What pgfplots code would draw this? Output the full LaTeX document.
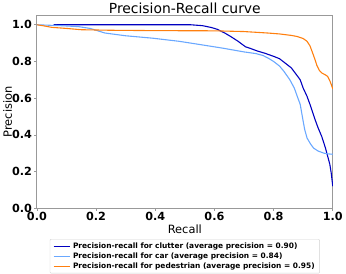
\documentclass[border=0pt]{standalone}
\usepackage{pgfplots}
\pgfplotsset{compat=1.18}
\usepackage{fontspec}
\setmainfont{DejaVu Sans}
\definecolor{clut}{HTML}{0000C0}
\definecolor{carc}{HTML}{6AA8FF}
\definecolor{pedc}{HTML}{FF7F0E}
\begin{document}
\begin{tikzpicture}
\begin{axis}[
  width=298pt, height=194pt, scale only axis,
  xmin=0, xmax=1, ymin=0, ymax=1.05,
  xtick={0,0.2,...,1.0}, ytick={0,0.2,...,1.0},
  /pgf/number format/assume math mode=true,
  /pgf/number format/.cd, fixed, fixed zerofill, precision=1, /pgfplots/.cd,
  xticklabel={\pgfmathprintnumber{\tick}},
  yticklabel={\pgfmathprintnumber{\tick}},
  xticklabel style={font=\fontsize{11.3}{13}\selectfont\bfseries, yshift=2pt},
  yticklabel style={font=\fontsize{11.3}{13}\selectfont\bfseries, xshift=1pt},
  axis line style={gray!80, line width=0.8pt},
  tick style={gray!80, line width=0.6pt},
  tick align=outside, major tick length=2.5pt,
  xtick pos=bottom, ytick pos=left,
  title={Precision-Recall curve},
  title style={font=\fontsize{14}{16}\selectfont, yshift=-8pt},
  xlabel={Recall}, ylabel={Precision},
  xlabel style={font=\fontsize{11.5}{13}\selectfont, yshift=3pt},
  ylabel style={font=\fontsize{11.5}{13}\selectfont, yshift=-7pt},
  legend style={at={(0.5,-0.16)}, anchor=north, font=\fontsize{7.5}{9}\selectfont\bfseries,
    draw=gray!35, rounded corners=1pt, row sep=-1.2pt, inner sep=1.5pt, inner xsep=3pt},
  legend cell align=left,
  every axis plot/.append style={line width=1.1pt},
]
\addplot[clut] coordinates {
(0.057,1.0)(0.30,1.0)(0.52,1.0)(0.56,0.995)(0.59,0.985)(0.61,0.975)(0.635,0.955)(0.655,0.936)(0.68,0.91)(0.705,0.88)(0.72,0.872)(0.745,0.857)(0.77,0.845)(0.80,0.828)(0.82,0.815)(0.84,0.79)(0.86,0.765)(0.873,0.737)(0.89,0.70)(0.90,0.655)(0.913,0.61)(0.923,0.566)(0.94,0.484)(0.95,0.44)(0.963,0.39)(0.975,0.33)(0.98,0.30)(0.99,0.24)(0.995,0.19)(1.0,0.12)
};
\addlegendentry{Precision-recall for clutter (average precision = 0.90)}
\addplot[carc] coordinates {
(0.0,1.0)(0.08,0.995)(0.14,0.99)(0.18,0.98)(0.20,0.97)(0.23,0.955)(0.30,0.94)(0.39,0.927)(0.48,0.91)(0.54,0.895)(0.63,0.872)(0.70,0.852)(0.74,0.843)(0.765,0.832)(0.785,0.815)(0.80,0.80)(0.82,0.775)(0.835,0.746)(0.855,0.70)(0.87,0.655)(0.88,0.61)(0.89,0.566)(0.90,0.474)(0.905,0.43)(0.913,0.383)(0.925,0.35)(0.935,0.328)(0.95,0.312)(0.97,0.30)(0.985,0.296)(1.0,0.294)
};
\addlegendentry{Precision-recall for car (average precision = 0.84)}
\addplot[pedc] coordinates {
(0.0,1.0)(0.02,0.995)(0.05,0.986)(0.10,0.98)(0.15,0.973)(0.25,0.97)(0.40,0.968)(0.60,0.967)(0.70,0.963)(0.78,0.955)(0.82,0.95)(0.86,0.942)(0.88,0.936)(0.90,0.925)(0.913,0.91)(0.923,0.885)(0.93,0.855)(0.94,0.81)(0.946,0.78)(0.955,0.75)(0.963,0.737)(0.975,0.727)(0.983,0.718)(0.99,0.695)(0.996,0.67)(1.0,0.65)
};
\addlegendentry{Precision-recall for pedestrian (average precision = 0.95)}
\end{axis}
\end{tikzpicture}
\end{document}
